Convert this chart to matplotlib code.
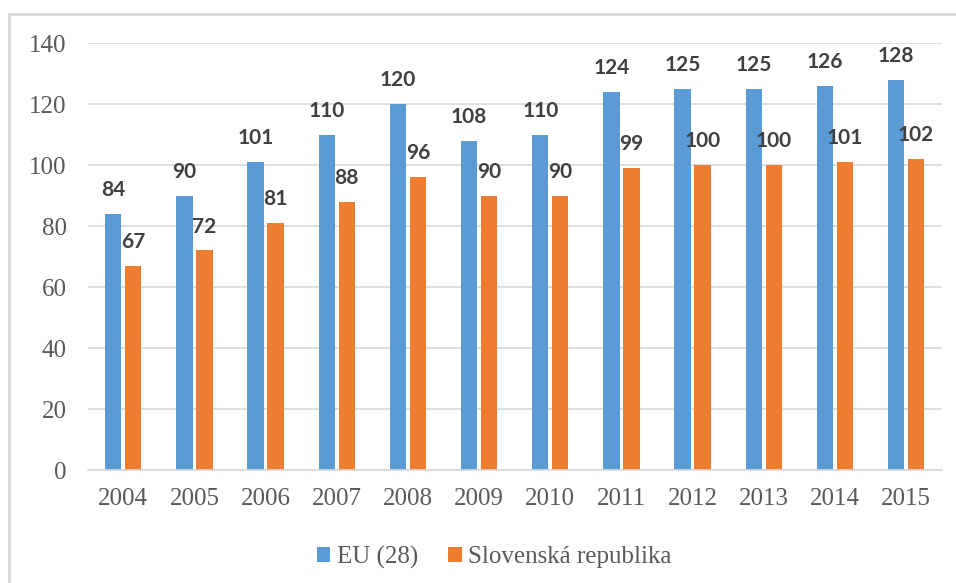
import matplotlib.pyplot as plt
import numpy as np
from matplotlib.lines import Line2D

years = ['2004', '2005', '2006', '2007', '2008', '2009', '2010', '2011', '2012', '2013', '2014', '2015']
eu = [84, 90, 101, 110, 120, 108, 110, 124, 125, 125, 126, 128]
sk = [67, 72, 81, 88, 96, 90, 90, 99, 100, 100, 101, 102]
series_names = ['EU (28)', 'Slovenská republika']

BLUE = '#5B9BD5'
ORANGE = '#ED7D31'
GRID = '#D9D9D9'

tick_font = dict(family='Liberation Serif', size=18, color='#595959')

fig = plt.figure(figsize=(9.56, 5.83), dpi=100)
ax = fig.add_axes([0.0917, 0.1938, 0.8933, 0.7324])

x = np.arange(len(years))
w = 0.23
off = 0.14
b1 = ax.bar(x - off, eu, w, color=BLUE, label=series_names[0], zorder=2)
b2 = ax.bar(x + off, sk, w, color=ORANGE, label=series_names[1], zorder=2)

for bars in (b1, b2):
    ax.bar_label(bars, padding=10, fontfamily='Lato', fontweight='bold',
                 fontsize=15, color='#404040')

ax.set_xlim(-0.5, len(years) - 0.5)
ax.set_ylim(0, 140)
ax.set_yticks(range(0, 141, 20))
ax.set_xticks(x)
ax.set_xticklabels(years)
ax.grid(axis='y', color=GRID, linewidth=1.2, zorder=0)
ax.set_axisbelow(True)
for s in ['top', 'right', 'left']:
    ax.spines[s].set_visible(False)
ax.spines['bottom'].set_color(GRID)
ax.spines['bottom'].set_linewidth(1.2)
ax.tick_params(length=0)
ax.tick_params(axis='y', pad=15)
ax.tick_params(axis='x', pad=13)
for lbl in ax.get_xticklabels() + ax.get_yticklabels():
    lbl.set_fontfamily(tick_font['family'])
    lbl.set_fontsize(tick_font['size'])
    lbl.set_color(tick_font['color'])

leg = fig.legend(loc='center', bbox_to_anchor=(494 / 956, 1 - 557 / 583), ncol=2,
                 frameon=False, handlelength=0.55, handleheight=0.55,
                 handletextpad=0.25, columnspacing=1.2,
                 prop={'family': 'Liberation Serif', 'size': 18})
for t in leg.get_texts():
    t.set_color('#595959')

# outer chart border (only top and left visible in the crop)
fig.add_artist(Line2D([9 / 956, 9 / 956], [0, 1 - 14 / 583], transform=fig.transFigure,
                      color=GRID, linewidth=2))
fig.add_artist(Line2D([9 / 956, 1], [1 - 14 / 583, 1 - 14 / 583], transform=fig.transFigure,
                      color=GRID, linewidth=2))

fig.savefig('out.png', dpi=100)
